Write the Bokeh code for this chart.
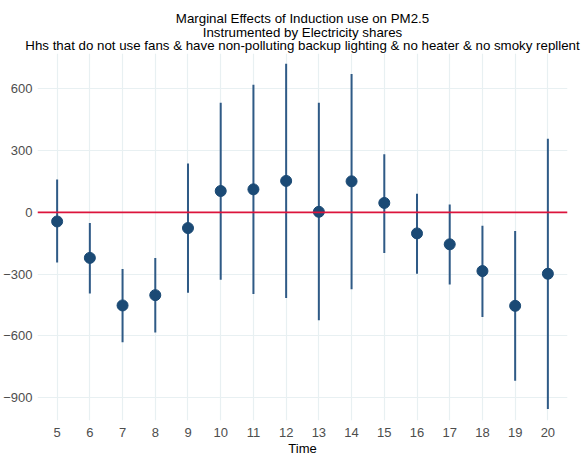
from bokeh.plotting import figure
from bokeh.models import Title, ColumnDataSource, Span, FixedTicker, Range1d
from bokeh.embed import file_html
from bokeh.resources import INLINE

time = [5, 6, 7, 8, 9, 10, 11, 12, 13, 14, 15, 16, 17, 18, 19, 20]
estimate = [-44, -221, -452, -402, -76, 104, 112, 153, 3, 151, 46, -102, -155, -285, -454, -298]
upper = [160, -52, -275, -221, 238, 533, 620, 722, 533, 673, 283, 91, 39, -65, -90, 358]
lower = [-243, -394, -631, -584, -390, -327, -397, -416, -524, -373, -197, -298, -350, -508, -818, -955]
y_ticks = [-900, -600, -300, 0, 300, 600]

titles = [
    "Marginal Effects of Induction use on PM2.5",
    "Instrumented by Electricity shares",
    "Hhs that do not use fans & have non-polluting backup lighting & no heater & no smoky repllent",
]

W, H = 581, 458

src = ColumnDataSource(dict(t=time, est=estimate, up=upper, lo=lower))

FONT = "Liberation Sans"
p = figure(width=W, height=H, output_backend="svg", toolbar_location=None,
           x_range=Range1d(4.4, 20.6), y_range=Range1d(-1011, 772),
           min_border_left=37, min_border_right=14, min_border_top=53, min_border_bottom=0,
           background_fill_color="white", border_fill_color="white", outline_line_color=None)

p.title = Title(text="\n".join(titles), align="center", text_align="center",
                text_font=FONT, text_font_size="13.3px", text_line_height=0.93,
                text_font_style="normal", text_color="black", standoff=0)

p.segment(x0="t", y0="lo", x1="t", y1="up", source=src, line_color="#2f5a86", line_width=2)
p.add_layout(Span(location=0, dimension="width", line_color="#dc143c", line_width=1.6))
p.scatter(x="t", y="est", source=src, size=11, fill_color="#1b4a75", line_color="#1b4a75")

p.xaxis.ticker = FixedTicker(ticks=time)
p.yaxis.ticker = FixedTicker(ticks=y_ticks)
p.xaxis.axis_label = "Time"
for ax in (p.xaxis, p.yaxis):
    ax.axis_line_color = None
    ax.major_tick_line_color = None
    ax.minor_tick_line_color = None
    ax.major_tick_out = 0
    ax.major_tick_in = 0
    ax.major_label_text_font = FONT
    ax.major_label_text_font_size = "13px"
    ax.major_label_text_color = "#4d4d4d"
p.xaxis.major_label_standoff = 7
p.yaxis.major_label_standoff = 5
p.xaxis.axis_label_text_font = FONT
p.xaxis.axis_label_text_font_size = "13px"
p.xaxis.axis_label_text_font_style = "normal"
p.xaxis.axis_label_text_color = "black"
p.xaxis.axis_label_standoff = 1

p.xgrid.ticker = FixedTicker(ticks=time)
p.ygrid.ticker = FixedTicker(ticks=y_ticks)
p.grid.grid_line_color = "#e8f0f2"
p.grid.grid_line_width = 1.2

open("out.html", "w").write(file_html(p, INLINE))
